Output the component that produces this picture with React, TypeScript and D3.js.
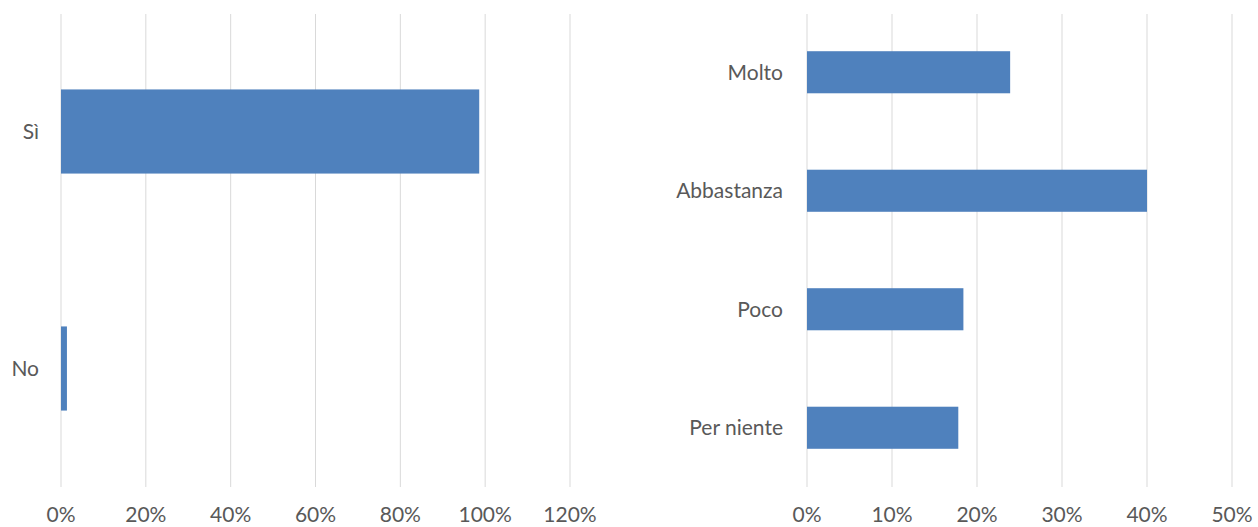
import React from "react";
import * as d3 from "d3";

const leftCategories = ["Sì", "No"];
const leftValues = [0.986, 0.014];
const leftTicks = [0, 0.2, 0.4, 0.6, 0.8, 1.0, 1.2];

const rightCategories = ["Molto", "Abbastanza", "Poco", "Per niente"];
const rightValues = [0.239, 0.4, 0.184, 0.178];
const rightTicks = [0, 0.1, 0.2, 0.3, 0.4, 0.5];

const W = 1258;
const H = 527;
const BAR = "#4f81bd";
const GRID = "#d9d9d9";
const TEXT = "#595959";
const FONT = "Lato, 'Open Sans', sans-serif";
const FS = 21;

function Panel({ cats, vals, ticks, x0, x1, labelX }: any) {
  const top = 13;
  const bottom = 487;
  const x = d3.scaleLinear().domain([0, ticks[ticks.length - 1]]).range([x0, x1]);
  const y = d3.scaleBand().domain(cats).range([top, bottom]).paddingInner(0.645).paddingOuter(0.3225);
  return (
    <g>
      {ticks.map((t: number) => (
        <g key={t}>
          <line x1={x(t)} x2={x(t)} y1={14} y2={bottom} stroke={GRID} strokeWidth={1} />
          <text x={x(t)} y={522} textAnchor="middle" fontSize={FS} fill={TEXT} fontFamily={FONT}>
            {d3.format(".0%")(t)}
          </text>
        </g>
      ))}
      {cats.map((c: string, i: number) => (
        <g key={c}>
          <rect x={x(0)} y={y(c)} width={x(vals[i]) - x(0)} height={y.bandwidth()} fill={BAR} />
          <text
            x={labelX}
            y={(y(c) as number) + y.bandwidth() / 2}
            dy="0.36em"
            textAnchor="end"
            fontSize={FS}
            fill={TEXT}
            fontFamily={FONT}
          >
            {c}
          </text>
        </g>
      ))}
    </g>
  );
}

export default function App() {
  return (
    <svg width={W} height={H} style={{ position: "absolute", left: 0, top: 0, background: "#fff" }}>
      <rect width={W} height={H} fill="#fff" />
      <Panel cats={leftCategories} vals={leftValues} ticks={leftTicks} x0={61} x1={570} labelX={39} />
      <Panel cats={rightCategories} vals={rightValues} ticks={rightTicks} x0={807} x1={1232} labelX={783} />
    </svg>
  );
}
